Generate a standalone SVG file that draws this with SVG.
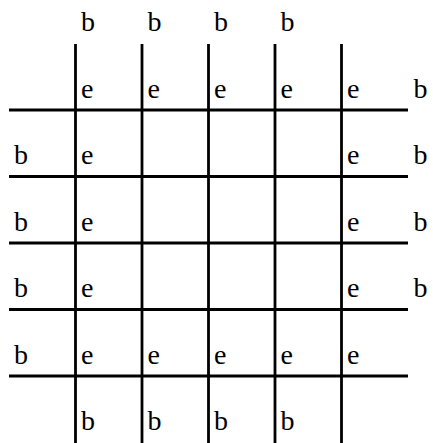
<svg xmlns="http://www.w3.org/2000/svg" width="433" height="443" viewBox="0 0 433 443">
<style>
.g line{stroke:#000;stroke-width:2.8}
</style>
<rect width="433" height="443" fill="#fff"/>
<g id="grid" class="g">
<line x1="75.5" y1="44" x2="75.5" y2="443"/>
<line x1="142" y1="44" x2="142" y2="443"/>
<line x1="208.5" y1="44" x2="208.5" y2="443"/>
<line x1="275" y1="44" x2="275" y2="443"/>
<line x1="341.5" y1="44" x2="341.5" y2="443"/>
<line x1="9" y1="110" x2="408" y2="110"/>
<line x1="9" y1="176.5" x2="408" y2="176.5"/>
<line x1="9" y1="243" x2="408" y2="243"/>
<line x1="9" y1="309.5" x2="408" y2="309.5"/>
<line x1="9" y1="376" x2="408" y2="376"/>
</g>
<g id="labels" font-family="Liberation Serif, serif" font-size="28" fill="#000">
<text x="81" y="30.5">b</text><text x="147.5" y="30.5">b</text><text x="214" y="30.5">b</text><text x="280.5" y="30.5">b</text>
<text x="81" y="97.5">e</text><text x="147.5" y="97.5">e</text><text x="214" y="97.5">e</text><text x="280.5" y="97.5">e</text><text x="347" y="97.5">e</text><text x="413.5" y="97.5">b</text>
<text x="14" y="164">b</text><text x="81" y="164">e</text><text x="347" y="164">e</text><text x="413.5" y="164">b</text>
<text x="14" y="230.5">b</text><text x="81" y="230.5">e</text><text x="347" y="230.5">e</text><text x="413.5" y="230.5">b</text>
<text x="14" y="297">b</text><text x="81" y="297">e</text><text x="347" y="297">e</text><text x="413.5" y="297">b</text>
<text x="14" y="363.5">b</text><text x="81" y="363.5">e</text><text x="147.5" y="363.5">e</text><text x="214" y="363.5">e</text><text x="280.5" y="363.5">e</text><text x="347" y="363.5">e</text>
<text x="81" y="430">b</text><text x="147.5" y="430">b</text><text x="214" y="430">b</text><text x="280.5" y="430">b</text>
</g>
</svg>
